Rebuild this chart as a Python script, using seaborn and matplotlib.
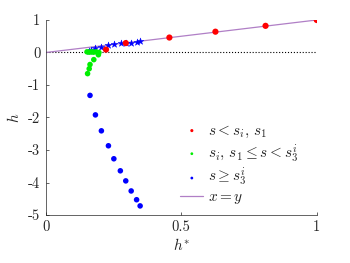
import numpy as np
import pandas as pd
import seaborn as sns
import matplotlib.pyplot as plt

# red: s < s_i, s_1
red_x = [0.222, 0.295, 0.456, 0.626, 0.811, 1.0]
red_y = [0.09, 0.29, 0.46, 0.64, 0.82, 1.0]

# green: s_i, s_1 <= s < s_3^i
green_x = [0.154, 0.160, 0.163, 0.177, 0.194, 0.152, 0.160, 0.168, 0.176, 0.186, 0.196]
green_y = [-0.65, -0.50, -0.37, -0.22, -0.07, 0.02, 0.01, 0.02, 0.01, 0.02, 0.0]

# blue dots: s >= s_3^i
blue_x = [0.163, 0.183, 0.205, 0.231, 0.251, 0.275, 0.295, 0.315, 0.335, 0.348]
blue_y = [-1.32, -1.92, -2.41, -2.87, -3.27, -3.64, -3.95, -4.26, -4.53, -4.72]

# blue stars along the diagonal
star_x = [0.158, 0.165, 0.181, 0.205, 0.229, 0.251, 0.276, 0.296, 0.316, 0.335, 0.347]
star_y = [0.06, 0.08, 0.13, 0.18, 0.24, 0.27, 0.29, 0.29, 0.30, 0.32, 0.36]

line_x = [0, 1]

sns.set_style('ticks')
plt.rcParams['font.family'] = 'serif'
plt.rcParams['font.serif'] = ['cmr10']
plt.rcParams['mathtext.fontset'] = 'cm'
plt.rcParams['axes.unicode_minus'] = False
plt.rcParams['axes.formatter.use_mathtext'] = True

fig = plt.figure(figsize=(3.5, 2.63), dpi=100)
ax = fig.add_axes([0.131, 0.1825, 0.774, 0.7415])

ax.plot(line_x, [0, 0], ls=':', color='black', lw=0.8, zorder=1)
sns.lineplot(x=line_x, y=line_x, color='#b07fc6', lw=0.9, ax=ax, label='$x = y$', zorder=2)

sns.scatterplot(x=star_x, y=star_y, marker='*', color='blue', s=26, edgecolor='blue', linewidth=0.3, ax=ax, zorder=3)
sns.scatterplot(x=green_x, y=green_y, color='#00ee00', s=16, edgecolor='none', ax=ax, zorder=3,
                label=r'$s_i,\, s_1 \leq s < s_3^i$')
sns.scatterplot(x=blue_x, y=blue_y, color='blue', s=16, edgecolor='none', ax=ax, zorder=3,
                label=r'$s \geq s_3^i$')
sns.scatterplot(x=red_x, y=red_y, color='red', s=20, edgecolor='none', ax=ax, zorder=4,
                label=r'$s < s_i,\, s_1$')

handles, labels = ax.get_legend_handles_labels()
order = [3, 1, 2, 0]
leg = ax.legend([handles[i] for i in order], [labels[i] for i in order],
                loc='lower right', bbox_to_anchor=(0.97, -0.01), frameon=False,
                fontsize=11, handlelength=1.5, handletextpad=0.3, labelspacing=0.15,
                markerscale=0.5, borderaxespad=0.3)

ax.set_xlim(0, 1)
ax.set_ylim(-5, 1)
ax.set_xticks([0, 0.5, 1])
ax.set_xticklabels(['0', '0.5', '1'])
ax.set_yticks([-5, -4, -3, -2, -1, 0, 1])
ax.set_yticklabels(['-5', '-4', '-3', '-2', '-1', '0', '1'])
ax.tick_params(direction='in', length=2.5, width=0.5, colors='#262626', labelsize=10.5, pad=4)
for s in ['left', 'bottom']:
    ax.spines[s].set_color('#262626')
    ax.spines[s].set_linewidth(0.5)
sns.despine(ax=ax)
ax.set_xlabel('$h^{*}$', fontsize=11, labelpad=2)
ax.set_ylabel('$h$', fontsize=11, labelpad=4)

fig.savefig('out.png', dpi=100)
